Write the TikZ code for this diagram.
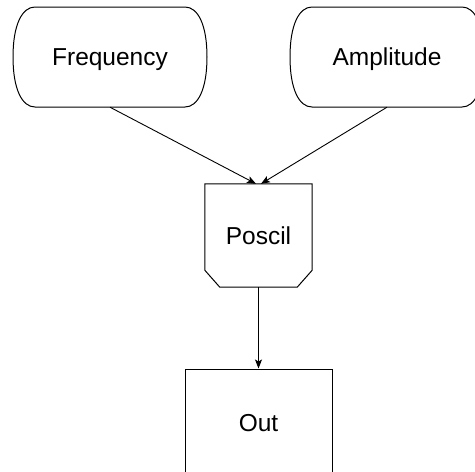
\documentclass[tikz,border=0pt]{standalone}
\usepackage{fontspec}
\setmainfont{Liberation Sans}
\usetikzlibrary{arrows.meta}
\tikzset{
  lbl/.style={inner sep=0pt, text depth=0pt, font=\fontsize{24.5}{28}\selectfont},
  edge/.style={line width=1pt, line join=miter},
  conn/.style={line width=0.9pt, -{Stealth[length=9pt,width=7pt,inset=2pt]}},
}
\newcommand{\termshape}[1]{%
  \draw[edge, shift={(#1.center)}] (-75,-50) -- (75,-50)
    .. controls (88,-50) and (97,-32) .. (97,0)
    .. controls (97,32) and (88,50) .. (75,50) -- (-75,50)
    .. controls (-88,50) and (-97,32) .. (-97,0)
    .. controls (-97,-32) and (-88,-50) .. cycle;}
\begin{document}
\begin{tikzpicture}[x=1pt,y=-1pt]
\useasboundingbox (0,0) rectangle (475,472);
\clip (0,0) rectangle (475,472);
\fill[white] (0,0) rectangle (475,472);
% terminals
\node[lbl, minimum width=194pt, minimum height=100pt] (f) at (110,57) {Frequency};
\node[lbl, minimum width=194pt, minimum height=100pt] (a) at (387,57) {Amplitude};
\termshape{f}
\termshape{a}
% Poscil
\node[lbl, minimum width=107pt, minimum height=103pt] (p) at (258.5,235.5) {Poscil};
\draw[edge] (p.north west) -- (p.north east) -- ([yshift=17pt]p.south east)
  -- ([xshift=-15pt]p.south east) -- ([xshift=15pt]p.south west)
  -- ([yshift=17pt]p.south west) -- cycle;
% Out
\node[lbl, draw, line width=1pt, minimum width=147pt, minimum height=108pt] (o) at (258.5,423) {Out};
% connectors
\draw[conn] (f.south) -- ([xshift=-2.5pt]p.north);
\draw[conn] (a.south) -- ([xshift=2.5pt]p.north);
\draw[conn] (p.south) -- (o.north);
\end{tikzpicture}
\end{document}
